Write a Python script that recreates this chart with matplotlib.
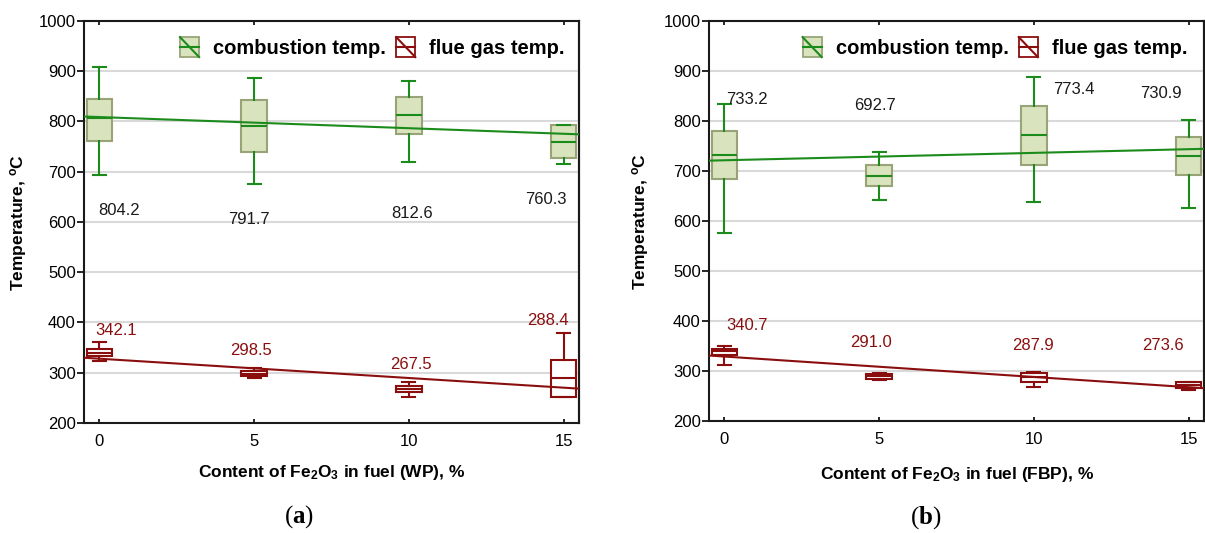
import numpy as np
import matplotlib
matplotlib.use("Agg")
import matplotlib.pyplot as plt
from matplotlib.legend_handler import HandlerBase
from matplotlib.patches import Rectangle, Patch
from matplotlib.lines import Line2D

plt.rcParams["font.family"] = ["Liberation Sans", "DejaVu Sans"]
plt.rcParams["mathtext.fontset"] = "custom"
plt.rcParams["mathtext.rm"] = "Liberation Sans:bold"
plt.rcParams["mathtext.it"] = "Liberation Sans:bold:italic"
plt.rcParams["mathtext.bf"] = "Liberation Serif:bold"

# ---------- data ----------
fe_content = [0, 5, 10, 15]

# (a) WP fuel - combustion temperature
wp_comb_lo = [694, 676, 719, 716]
wp_comb_q1 = [762, 739, 775, 727]
wp_comb_med = [807, 791, 812, 760]
wp_comb_q3 = [845, 843, 848, 793]
wp_comb_hi = [909, 887, 880, 793]
wp_comb_mean = [804.2, 791.7, 812.6, 760.3]

# (a) WP fuel - flue gas temperature
wp_flue_lo = [324, 289, 251, 252]
wp_flue_q1 = [334, 293, 261, 252]
wp_flue_med = [340, 298, 268, 289]
wp_flue_q3 = [348, 303, 274, 326]
wp_flue_hi = [362, 309, 281, 379]
wp_flue_mean = [342.1, 298.5, 267.5, 288.4]

# (b) FBP fuel - combustion temperature
fbp_comb_lo = [577, 643, 638, 627]
fbp_comb_q1 = [685, 670, 713, 693]
fbp_comb_med = [732, 691, 773, 730]
fbp_comb_q3 = [781, 713, 831, 768]
fbp_comb_hi = [834, 739, 889, 803]
fbp_comb_mean = [733.2, 692.7, 773.4, 730.9]

# (b) FBP fuel - flue gas temperature
fbp_flue_lo = [312, 283, 268, 262]
fbp_flue_q1 = [332, 285, 278, 266]
fbp_flue_med = [340, 290, 288, 272]
fbp_flue_q3 = [345, 295, 296, 278]
fbp_flue_hi = [351, 297, 298, 279]
fbp_flue_mean = [340.7, 291.0, 287.9, 273.6]

# label placement (data coords)
wp_comb_lbl_x = [0.62, 4.84, 10.1, 14.44]
wp_comb_lbl_y = [622, 604, 617, 644]
wp_flue_lbl_x = [0.55, 4.9, 10.07, 14.48]
wp_flue_lbl_y = [384, 344, 316, 403]
fbp_comb_lbl_x = [0.74, 4.86, 11.3, 14.1]
fbp_comb_lbl_y = [844, 832, 864, 856]
fbp_flue_lbl_x = [0.74, 4.74, 9.96, 14.16]
fbp_flue_lbl_y = [392, 357, 351, 352]

GREEN = "#1b8c1b"
GREEN_FACE = "#d9e3bd"
GREEN_EDGE = "#98a477"
RED = "#8b0e0e"


class BoxHandler(HandlerBase):
    def __init__(self, face, edge, line):
        super().__init__()
        self.face, self.edge, self.line = face, edge, line

    def create_artists(self, legend, orig_handle, xdescent, ydescent,
                       width, height, fontsize, trans):
        x0, y0 = -xdescent, -ydescent
        rect = Rectangle((x0, y0), width, height, facecolor=self.face,
                         edgecolor=self.edge, lw=1.3, transform=trans)
        mid = Line2D([x0, x0 + width], [y0 + height / 2] * 2,
                     color=self.line, lw=1.5, transform=trans)
        diag = Line2D([x0, x0 + width], [y0 + height, y0],
                      color=self.line, lw=1.5, transform=trans)
        return [rect, mid, diag]


def stats(lo, q1, med, q3, hi):
    return [dict(whislo=a, q1=b, med=c, q3=d, whishi=e, fliers=[])
            for a, b, c, d, e in zip(lo, q1, med, q3, hi)]


def draw_boxes(ax, st, face, edge, line):
    ax.bxp(st, positions=fe_content, widths=0.82, patch_artist=True,
           showfliers=False, capwidths=0.42,
           boxprops=dict(facecolor=face, edgecolor=edge, lw=1.5),
           medianprops=dict(color=line, lw=1.5),
           whiskerprops=dict(color=line, lw=1.5),
           capprops=dict(color=line, lw=1.5), zorder=3)


def draw_fit(ax, means, color):
    k, b = np.polyfit(fe_content, means, 1)
    xs = np.array(ax.get_xlim())
    ax.plot(xs, k * xs + b, color=color, lw=1.5, zorder=4)


def setup(ax, xlabel):
    ax.set_ylim(200, 1000)
    ax.set_yticks(np.arange(200, 1001, 100))
    ax.grid(axis="y", color="#d9d9d9", lw=1.5, zorder=0)
    ax.set_axisbelow(True)
    for s in ax.spines.values():
        s.set_linewidth(1.5)
        s.set_color("#1a1a1a")
    ax.tick_params(axis="x", direction="in", top=True, length=3, width=1.2,
                   labelsize=12, pad=8)
    ax.tick_params(axis="y", direction="out", right=False, length=5, width=1.2,
                   labelsize=12, pad=1)
    sec = ax.secondary_yaxis("right")
    sec.set_yticks(np.arange(200, 1001, 100))
    sec.tick_params(direction="in", length=3, width=1.2, labelright=False)
    sec.spines["right"].set_linewidth(1.5)
    ax.set_xlabel(xlabel, fontsize=12.5, fontweight="bold")
    ax.set_ylabel("Temperature, $^\\mathrm{o}$C", fontsize=12.5, fontweight="bold")
    ax.xaxis.label.set_va("center")
    ax.yaxis.label.set_va("center")


def labels(ax, xs, ys, vals, color):
    for x, y, v in zip(xs, ys, vals):
        ax.text(x, y, f"{v:.1f}", color=color, fontsize=12,
                ha="center", va="center", zorder=5)


fig = plt.figure(figsize=(12.05, 5.33), dpi=100)
ax1 = fig.add_axes([0.0697, 0.2064, 0.4108, 0.7542])
ax2 = fig.add_axes([0.5884, 0.2101, 0.4108, 0.7505])

setup(ax1, "Content of Fe$_2$O$_3$ in fuel (WP), %")
setup(ax2, "Content of Fe$_2$O$_3$ in fuel (FBP), %")
ax1.xaxis.set_label_coords(0.5, -0.122)
ax1.yaxis.set_label_coords(-0.133, 0.5)
ax2.xaxis.set_label_coords(0.5, -0.1325)
ax2.yaxis.set_label_coords(-0.139, 0.5)

draw_boxes(ax1, stats(wp_comb_lo, wp_comb_q1, wp_comb_med, wp_comb_q3, wp_comb_hi),
           GREEN_FACE, GREEN_EDGE, GREEN)
draw_boxes(ax1, stats(wp_flue_lo, wp_flue_q1, wp_flue_med, wp_flue_q3, wp_flue_hi),
           "white", RED, RED)
draw_boxes(ax2, stats(fbp_comb_lo, fbp_comb_q1, fbp_comb_med, fbp_comb_q3, fbp_comb_hi),
           GREEN_FACE, GREEN_EDGE, GREEN)
draw_boxes(ax2, stats(fbp_flue_lo, fbp_flue_q1, fbp_flue_med, fbp_flue_q3, fbp_flue_hi),
           "white", RED, RED)

for ax in (ax1, ax2):
    ax.set_xlim(-0.5, 15.5)
    ax.set_xticks(fe_content)
    ax.set_xticklabels([str(v) for v in fe_content])

draw_fit(ax1, wp_comb_mean, GREEN)
draw_fit(ax1, wp_flue_mean, RED)
draw_fit(ax2, fbp_comb_mean, GREEN)
draw_fit(ax2, fbp_flue_mean, RED)

labels(ax1, wp_comb_lbl_x, wp_comb_lbl_y, wp_comb_mean, "#1a1a1a")
labels(ax1, wp_flue_lbl_x, wp_flue_lbl_y, wp_flue_mean, RED)
labels(ax2, fbp_comb_lbl_x, fbp_comb_lbl_y, fbp_comb_mean, "#1a1a1a")
labels(ax2, fbp_flue_lbl_x, fbp_flue_lbl_y, fbp_flue_mean, RED)

for ax, anchor_x in ((ax1, 1.0), (ax2, 0.995)):
    h_comb, h_flue = Patch(), Patch()
    ax.legend([h_comb, h_flue], ["combustion temp.", "flue gas temp."],
              handler_map={h_comb: BoxHandler(GREEN_FACE, GREEN_EDGE, GREEN),
                           h_flue: BoxHandler("white", RED, RED)},
              loc="upper right", ncol=2, frameon=False,
              prop=dict(weight="bold", size=14.5),
              handlelength=0.95, handleheight=1.15, handletextpad=0.7,
              columnspacing=0.5, borderaxespad=0.3,
              bbox_to_anchor=(anchor_x, 0.995))

fig.text(299 / 1205, 1 - 517 / 533, "($\\mathbf{a}$)", family="Liberation Serif",
         fontsize=18, ha="center", va="center")
fig.text(926 / 1205, 1 - 518 / 533, "($\\mathbf{b}$)", family="Liberation Serif",
         fontsize=18, ha="center", va="center")

fig.savefig("out.png", dpi=100)
